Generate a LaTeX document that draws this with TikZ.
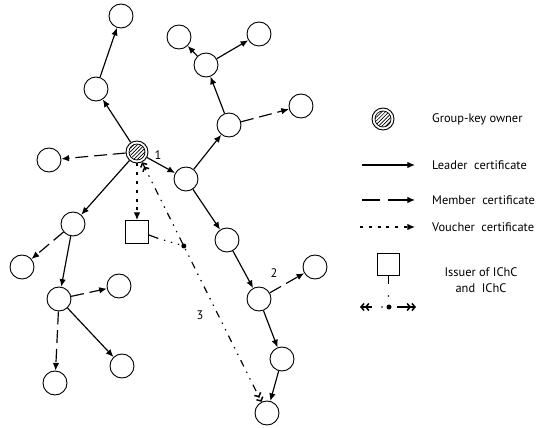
\documentclass[tikz,border=0pt]{standalone}
\usepackage{fontspec}
\setmainfont{PT Sans}
\usetikzlibrary{arrows.meta,patterns.meta,calc}
\tikzset{
  dbarb/.tip={Straight Barb[length=2.6pt,width=6pt,line width=1.3pt]Straight Barb[length=2.6pt,width=6pt,line width=1.3pt]},
}
\begin{document}
\begin{tikzpicture}[x=0.03cm,y=-0.03cm,
  every node/.style={font=\fontsize{10.6}{14}\selectfont},
  nd/.style={circle,draw,line width=0.8pt,minimum size=0.72cm,inner sep=0pt,fill=white},
  gk/.style={circle,draw,line width=0.8pt,minimum size=0.66cm,inner sep=0pt,fill=white,
    path picture={\fill[pattern={Lines[angle=45,distance=2.2pt,line width=0.6pt]}] (path picture bounding box.center) circle (0.24cm);
      \draw[line width=0.6pt] (path picture bounding box.center) circle (0.24cm);}},
  sqr/.style={draw,line width=0.8pt,minimum size=0.69cm,inner sep=0pt,fill=white},
  arr/.style={-{Latex[length=6.5pt,width=5.5pt]}},
  leader/.style={line width=1pt,arr},
  member/.style={line width=1pt,arr,dash pattern=on 11pt off 5pt},
  voucher/.style={line width=1pt,arr,dash pattern=on 2.5pt off 5pt},
  ichc/.style={line width=1pt,dash pattern=on 6pt off 5pt on 1.2pt off 5pt on 1.2pt off 5pt},
  lab/.style={anchor=west,inner sep=0pt},
  ]
\useasboundingbox (0,0) rectangle (552,428);
% nodes
\node[nd] (A) at (121,16) {};
\node[nd] (B) at (96,89) {};
\node[gk] (G) at (137,152) {};
\node[nd] (L) at (49,160) {};
\node[nd] (C) at (186,179) {};
\node[nd] (D) at (229,125) {};
\node[nd] (E) at (206,65) {};
\node[nd] (F) at (179,37) {};
\node[nd] (H) at (259,34) {};
\node[nd] (I) at (301,106) {};
\node[nd] (J) at (227,240) {};
\node[nd] (K) at (259,299) {};
\node[nd] (M) at (315,267) {};
\node[nd] (N) at (282,359) {};
\node[nd] (O) at (267,413) {};
\node[nd] (P) at (73,224) {};
\node[nd] (Q) at (22,267) {};
\node[nd] (R) at (59,299) {};
\node[nd] (S) at (119,286) {};
\node[nd] (T) at (122,366) {};
\node[nd] (U) at (55,383) {};
\node[sqr] (sq) at (137,232) {};
% leader
\draw[leader] (G) -- (B);
\draw[leader] (B) -- (A);
\draw[leader] (G) -- (C);
\draw[leader] (C) -- (D);
\draw[leader] (D) -- (E);
\draw[leader] (E) -- (F);
\draw[leader] (E) -- (H);
\draw[leader] (C) -- (J);
\draw[leader] (J) -- (K);
\draw[leader] (K) -- (N);
\draw[leader] (N) -- (O);
\draw[leader] (G) -- (P);
\draw[leader] (P) -- (R);
\draw[leader] (R) -- (T);
% member
\draw[member] (G) -- (L);
\draw[member] (D) -- (I);
\draw[member] (K) -- (M);
\draw[member] (P) -- (Q);
\draw[member] (R) -- (S);
\draw[member] (R) -- (U);
% voucher
\draw[voucher] (G) -- (sq);
% IChC
\draw[ichc,{dbarb}-{dbarb}] (G) -- (O);
\node[circle,fill,minimum size=0.15cm,inner sep=0pt] (dt) at ($(G)!0.36!(O)$) {};
\draw[line width=1pt] ($(sq.east)+(0,3)$) -- ++(8,3) coordinate (sqb);
\draw[line width=1pt,dash pattern=on 1.2pt off 5pt] (sqb) -- (dt);
% labels
\node (n1) at (158,155) {1};
\node (n2) at (274,273) {2};
\node (n3) at (200,315) {3};
% legend
\node[gk] (lg) at (383,119) {};
\node[lab] (t1) at (432,119) {Group-key owner};
\coordinate (la1) at (362,165); \coordinate (la2) at (415,165);
\draw[leader] (la1) -- (la2);
\node[lab] (t2) at (432,165) {Leader\ \ certificate};
\coordinate (lb1) at (362,200); \coordinate (lb2) at (380,200);
\coordinate (lb3) at (388,200); \coordinate (lb4) at (415,200);
\draw[line width=1pt] (lb1) -- (lb2);
\draw[leader] (lb3) -- (lb4);
\node[lab] (t3) at (432,200) {Member\ \ certificate};
\coordinate (lc1) at (360,227); \coordinate (lc2) at (415,227);
\draw[voucher] (lc1) -- (lc2);
\node[lab] (t4) at (432,227) {Voucher\ \ certificate};
\node[sqr,minimum size=0.66cm] (lsq) at (388.5,264) {};
\coordinate (lv) at (388.5,284);
\draw[line width=1pt] (lsq.south) -- (lv);
\node[circle,fill,minimum size=0.05cm,inner sep=0pt] (ld1) at (388.5,296) {};
\coordinate (le1) at (360,307); \coordinate (le2) at (372,307);
\draw[line width=1pt,{dbarb}-] (le1) -- (le2);
\node[circle,fill,minimum size=0.05cm,inner sep=0pt] (ld2) at (382,307) {};
\node[circle,fill,minimum size=0.15cm,inner sep=0pt] (ld3) at (389,307) {};
\coordinate (le3) at (397,307); \coordinate (le4) at (416,307);
\draw[line width=1pt,-{dbarb}] (le3) -- (le4);
\node[align=center] (t5) at (481,280) {Issuer of IChC\\and\ \ IChC};
\end{tikzpicture}
\end{document}
